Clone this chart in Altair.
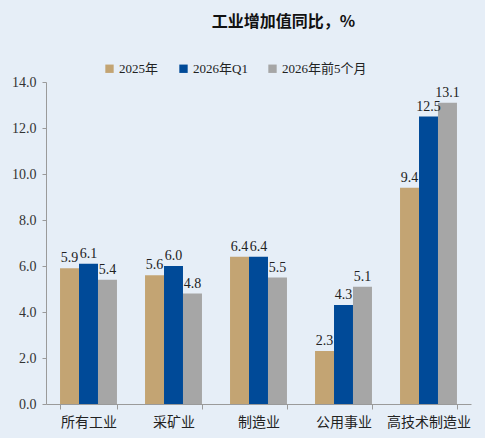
import altair as alt
import pandas as pd

categories = ["所有工业", "采矿业", "制造业", "公用事业", "高技术制造业"]
series_names = ["2025年", "2026年Q1", "2026年前5个月"]
v2025 = [5.9, 5.6, 6.4, 2.3, 9.4]
v2026q1 = [6.1, 6.0, 6.4, 4.3, 12.5]
v2026m5 = [5.4, 4.8, 5.5, 5.1, 13.1]
colors = ["#C3A473", "#004A98", "#A6A6A6"]

rows = []
for name, vals in zip(series_names, [v2025, v2026q1, v2026m5]):
    for c, v in zip(categories, vals):
        rows.append({"cat": c, "series": name, "value": v})
df = pd.DataFrame(rows)

serif = "Liberation Serif, Times New Roman, Noto Sans CJK SC"
cjk = "Noto Sans CJK SC"

x = alt.X("cat:N", sort=categories, title=None,
          scale=alt.Scale(paddingInner=0.33, paddingOuter=0.165),
          axis=alt.Axis(labelAngle=0, labelFont=cjk, labelFontSize=14, labelColor="#222",
                        domainColor="#9a9a9a", tickColor="#9a9a9a", tickBand="extent",
                        tickSize=5, labelPadding=6))
xo = alt.XOffset("series:N", sort=series_names, scale=alt.Scale(paddingInner=0, paddingOuter=0))
y = alt.Y("value:Q", title=None,
          scale=alt.Scale(domain=[0, 14], nice=False),
          axis=alt.Axis(values=[0, 2, 4, 6, 8, 10, 12, 14], format=".1f", grid=False,
                        labelFont=serif, labelFontSize=14, labelColor="#333",
                        domainColor="#9a9a9a", tickColor="#9a9a9a", tickSize=4, labelPadding=6))
color = alt.Color("series:N", sort=series_names,
                  scale=alt.Scale(domain=series_names, range=colors),
                  legend=alt.Legend(title=None, orient="none", direction="horizontal",
                                    legendX=57, legendY=-20, symbolType="square",
                                    symbolSize=70, symbolStrokeWidth=0, labelFont=serif,
                                    labelFontSize=13, labelColor="#222", columnPadding=18,
                                    symbolOffset=0, labelOffset=3))

bars = alt.Chart(df).mark_bar().encode(x=x, xOffset=xo, y=y, color=color)
labels = alt.Chart(df).mark_text(baseline="bottom", dy=-3, font=serif, fontSize=14,
                                 color="#222").encode(
    x=alt.X("cat:N", sort=categories), xOffset=xo, y="value:Q",
    text=alt.Text("value:Q", format=".1f"))

chart = (bars + labels).properties(
    width=425, height=322,
    autosize=alt.AutoSizeParams(type="none"),
    padding={"left": 46, "top": 82, "right": 14, "bottom": 34},
    background="#e6eef7",
    title=alt.TitleParams("工业增加值同比，%", font=cjk, fontSize=16, fontWeight="bold",
                          color="#111", anchor="middle", dx=25, offset=32),
).configure_view(stroke=None)

chart.save("out.html", embed_options={"renderer": "svg", "actions": False})
